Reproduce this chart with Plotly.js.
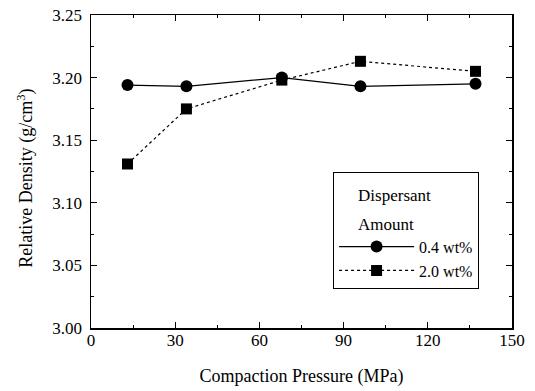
<!DOCTYPE html>
<html><head><meta charset="utf-8">
<script src="https://cdn.plot.ly/plotly-3.0.1.min.js"></script>
<style>body{margin:0;background:#fff}#c{width:535px;height:391px}</style>
</head><body><div id="c"></div>
<script>
const pressure = [13, 34, 68, 96, 137];
const density04 = [3.194, 3.193, 3.200, 3.193, 3.195];
const density20 = [3.131, 3.175, 3.198, 3.213, 3.205];
const seriesNames = ['0.4 wt%', '2.0 wt%'];
const xTicks = [0, 30, 60, 90, 120, 150];
const yTicks = [3.00, 3.05, 3.10, 3.15, 3.20, 3.25];

const fam = 'Liberation Serif, Times New Roman, serif';
const font = {family: fam, color: '#000'};
const traces = [
  {x: pressure, y: density04, name: seriesNames[0], mode: 'lines+markers',
   line: {color: '#000', width: 1.2, dash: 'solid'},
   marker: {symbol: 'circle', size: 12, color: '#000'}},
  {x: pressure, y: density20, name: seriesNames[1], mode: 'lines+markers',
   line: {color: '#000', width: 1.2, dash: 'dot'},
   marker: {symbol: 'square', size: 11, color: '#000'}}
];
const axisCommon = {
  showgrid: false, zeroline: false, showline: true, linecolor: '#000', linewidth: 1.5,
  mirror: 'ticks', ticks: 'inside', ticklen: 6, tickwidth: 1, tickcolor: '#000',
  tickfont: {family: fam, color: '#000', size: 17}
};
const layout = {
  width: 535, height: 391,
  margin: {l: 91, r: 23, t: 15, b: 63},
  paper_bgcolor: '#fff', plot_bgcolor: '#fff',
  font: font,
  showlegend: true,
  xaxis: Object.assign({}, axisCommon, {
    range: [0, 150], tickmode: 'array', tickvals: xTicks, ticklabelstandoff: -4,
    minor: {ticks: 'inside', ticklen: 3, tickcolor: '#000', dtick: 15, tick0: 0},
    title: {text: 'Compaction Pressure (MPa)', font: {family: fam, color: '#000', size: 18}, standoff: 20}
  }),
  yaxis: Object.assign({}, axisCommon, {
    range: [3.00, 3.25], tickmode: 'array', tickvals: yTicks, ticklabelstandoff: 4,
    tickformat: '.2f',
    minor: {ticks: 'inside', ticklen: 3, tickcolor: '#000', dtick: 0.025, tick0: 3.0}
  }),
  annotations: [{
    text: 'Relative Density (g/cm<sup>3</sup>)', textangle: -90,
    xref: 'paper', yref: 'paper', x: -0.155, y: 0.479, xanchor: 'center', yanchor: 'middle',
    showarrow: false, font: {family: fam, color: '#000', size: 18}
  }],
  legend: {
    x: 0.575, y: 0.5, xanchor: 'left', yanchor: 'top',
    bordercolor: '#000', borderwidth: 1, bgcolor: '#fff',
    font: {family: fam, color: '#000', size: 16},
    itemwidth: 75,
    title: {text: '\u00a0\u00a0\u00a0\u00a0<span style="font-size:17px">Dispersant</span><br>\u00a0\u00a0\u00a0\u00a0<span style="font-size:17px">Amount</span>',
            font: {family: fam, color: '#000', size: 22}, side: 'top'},
    tracegroupgap: 2
  }
};
Plotly.newPlot('c', traces, layout, {displayModeBar: false, staticPlot: true});
</script></body></html>
